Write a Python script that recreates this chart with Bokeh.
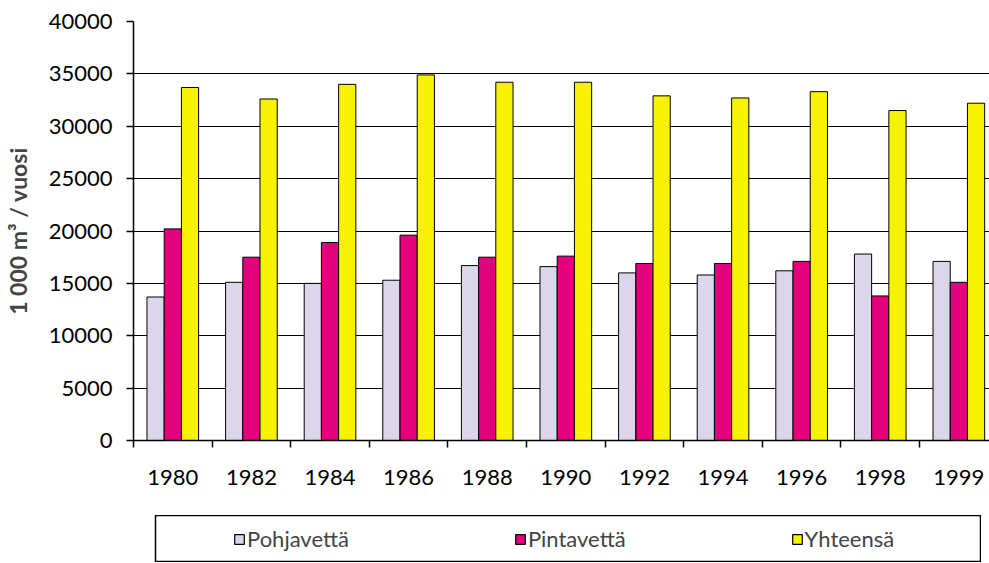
from bokeh.plotting import figure
from bokeh.layouts import column
from bokeh.models import Range1d, FixedTicker, Legend, LegendItem, ColumnDataSource
from bokeh.embed import file_html
from bokeh.resources import INLINE

# ---- data ----
years = ["1980", "1982", "1984", "1986", "1988", "1990", "1992", "1994", "1996", "1998", "1999"]
pohjavetta = [13700, 15100, 15000, 15300, 16700, 16600, 16000, 15800, 16200, 17800, 17100]
pintavetta = [20200, 17500, 18900, 19600, 17500, 17600, 16900, 16900, 17100, 13800, 15100]
yhteensa = [33700, 32600, 34000, 34900, 34200, 34200, 32900, 32700, 33300, 31500, 32200]
y_ticks = [0, 5000, 10000, 15000, 20000, 25000, 30000, 35000, 40000]
series_names = ["Pohjavettä", "Pintavettä", "Yhteensä"]
colors = ["#DCD6EA", "#E4007C", "#F7F300"]

FONT = "Lato"

p = figure(width=989, height=505, output_backend="svg", toolbar_location=None,
           x_range=Range1d(0, 10.89), y_range=Range1d(0, 40000),
           min_border_left=133, min_border_right=0, min_border_top=21, min_border_bottom=65)
p.outline_line_color = None

centers = [i + 0.5 for i in range(len(years))]
offsets = [-0.219, 0.0, 0.219]
sources = []
for vals, off, col in zip([pohjavetta, pintavetta, yhteensa], offsets, colors):
    src = ColumnDataSource(dict(x=[c + off for c in centers], top=vals, year=years))
    sources.append(src)
    p.vbar(x="x", top="top", bottom=0, width=0.219, source=src,
           fill_color=col, line_color="black", line_width=1)

# y axis
p.yaxis.ticker = FixedTicker(ticks=y_ticks)
p.yaxis.axis_label = "1 000 m³ / vuosi"
p.yaxis.axis_label_text_font = FONT
p.yaxis.axis_label_text_font_style = "bold"
p.yaxis.axis_label_text_font_size = "23px"
p.yaxis.axis_label_standoff = 14
p.yaxis.major_label_text_font = FONT
p.yaxis.major_label_text_font_size = "22px"
p.yaxis.major_label_text_color = "black"
p.yaxis.major_tick_out = 7
p.yaxis.major_tick_in = 0
p.yaxis.minor_tick_out = 0
p.yaxis.minor_tick_in = 0
p.yaxis.major_label_standoff = 14
p.yaxis.axis_line_color = "black"
p.yaxis.axis_line_width = 1.5
p.yaxis.major_tick_line_color = "black"
p.yaxis.major_tick_line_width = 1.5

# x axis: labels at group centres, tick marks at group boundaries
p.xaxis.ticker = FixedTicker(ticks=centers, minor_ticks=list(range(len(years) + 1)))
p.xaxis.major_label_overrides = {c: y for c, y in zip(centers, years)}
p.xaxis.major_label_text_font = FONT
p.xaxis.major_label_text_font_size = "22px"
p.xaxis.major_label_text_color = "black"
p.xaxis.major_tick_out = 0
p.xaxis.major_tick_in = 0
p.xaxis.minor_tick_out = 7
p.xaxis.minor_tick_in = 0
p.xaxis.minor_tick_line_color = "black"
p.xaxis.minor_tick_line_width = 1.5
p.xaxis.major_label_standoff = 22
p.xaxis.axis_line_color = "black"
p.xaxis.axis_line_width = 1.5

p.xgrid.grid_line_color = None
p.ygrid.ticker = FixedTicker(ticks=y_ticks)
p.ygrid.grid_line_color = "black"
p.ygrid.grid_line_width = 1.2

# legend panel (separate small figure whose frame outline is the legend box);
# its ranges keep the bars themselves out of view, only the legend shows
lf = figure(width=959, height=47, output_backend="svg", toolbar_location=None,
            x_range=Range1d(-3, -2), y_range=Range1d(0, 1),
            min_border=0, min_border_left=0, min_border_right=0,
            min_border_top=0, min_border_bottom=0)
lf.axis.visible = False
lf.grid.visible = False
lf.outline_line_color = "black"
lf.outline_line_width = 1.5
lf.margin = (10, 0, 0, 22)
legend_renderers = []
for src, col in zip(sources, colors):
    r = lf.vbar(x="x", top="top", bottom=0, width=0.219, source=src,
                fill_color=col, line_color="black", line_width=1.2)
    legend_renderers.append(r)
items = [LegendItem(label=n, renderers=[r]) for n, r in zip(series_names, legend_renderers)]
legend = Legend(items=items, orientation="horizontal", location=(78, 10),
                border_line_color=None, background_fill_alpha=0, padding=0, margin=0,
                spacing=165, glyph_width=12, glyph_height=12, label_standoff=2,
                label_text_font=FONT, label_text_font_size="22px", label_height=22)
lf.add_layout(legend, "center")

layout = column(p, lf, spacing=0)
open("out.html", "w").write(file_html(layout, INLINE))
